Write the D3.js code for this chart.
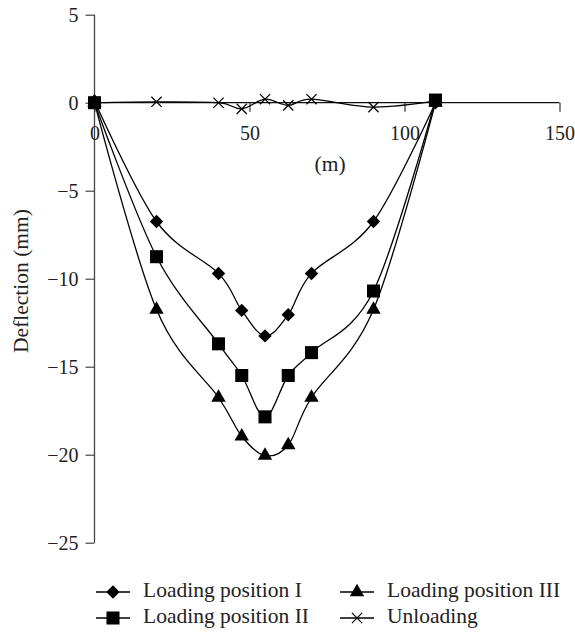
<!DOCTYPE html>
<html>
<head>
<meta charset="utf-8">
<script src="https://cdn.jsdelivr.net/npm/d3@7/dist/d3.min.js"></script>
<style>
  html, body { margin: 0; padding: 0; background: #fff; }
  svg text { font-family: "Liberation Serif", "Times New Roman", serif; fill: #222; }
</style>
</head>
<body>
<svg id="chart" width="575" height="633"></svg>
<script>
// ---- data ----
const positions = [0, 20, 40, 47.5, 55, 62.5, 70, 90, 110];
const loadingI   = [0.1, -6.75, -9.7, -11.8, -13.25, -12.05, -9.7, -6.75, 0];
const loadingII  = [0, -8.75, -13.7, -15.5, -17.85, -15.5, -14.2, -10.7, 0.15];
const loadingIII = [0, -11.75, -16.75, -18.95, -20.05, -19.45, -16.75, -11.75, 0];
const unloading  = [0, 0.05, 0, -0.35, 0.2, -0.15, 0.2, -0.25, 0.1];
const xTicks = [0, 50, 100, 150];
const yTicks = [5, 0, -5, -10, -15, -20, -25];
const seriesNames = ["Loading position I", "Loading position II", "Loading position III", "Unloading"];
const seriesShapes = ["diamond", "square", "triangle", "cross"];

const series = [loadingI, loadingII, loadingIII, unloading].map((vals, i) => ({
  name: seriesNames[i], shape: seriesShapes[i],
  points: positions.map((p, j) => ({ x: p, y: vals[j] }))
}));

const svg = d3.select("#chart");
const x = d3.scaleLinear().domain([0, 150]).range([94.5, 559.5]);
const y = d3.scaleLinear().domain([-25, 5]).range([542.7, 14.7]);
const fs = 20;      // tick labels
const fsText = 21.5; // titles and legend

// y axis
const yAxis = svg.append("g").attr("transform", `translate(${x(0)},0)`)
  .call(d3.axisLeft(y).tickValues(yTicks).tickSize(9).tickPadding(7)
        .tickFormat(d => d < 0 ? "\u2212" + Math.abs(d) : String(d)));
yAxis.select(".domain").attr("stroke", "#444").attr("stroke-width", 1.3).attr("d", `M0,${y(5)}V${y(-25)}`);
yAxis.selectAll(".tick line").attr("stroke", "#444").attr("stroke-width", 1.2);
yAxis.selectAll(".tick text").attr("font-size", fs).attr("font-family", "Liberation Serif").attr("fill", "#222");

// x axis at y = 0
const xAxis = svg.append("g").attr("transform", `translate(0,${y(0)})`)
  .call(d3.axisBottom(x).tickValues(xTicks).tickSize(9).tickPadding(14).tickFormat(d3.format("d")));
xAxis.select(".domain").attr("stroke", "#111").attr("stroke-width", 1.3).attr("d", `M${x(0)},0H${x(150)}`);
xAxis.selectAll(".tick line").attr("stroke", "#333").attr("stroke-width", 1.2);
xAxis.selectAll(".tick text").attr("font-size", fs).attr("font-family", "Liberation Serif").attr("fill", "#222");

// axis titles
svg.append("text").attr("x", x(76)).attr("y", y(-3.6)).attr("text-anchor", "middle")
  .attr("dominant-baseline", "middle").attr("font-size", fsText).text("(m)");
svg.append("text").attr("transform", `translate(23,${281}) rotate(-90)`)
  .attr("text-anchor", "middle").attr("dominant-baseline", "middle").attr("font-size", fsText).text("Deflection (mm)");

// lines
const line = d3.line().x(d => x(d.x)).y(d => y(d.y)).curve(d3.curveCardinal.tension(0));
svg.append("g").selectAll("path.series").data(series).join("path")
  .attr("class", "series").attr("d", d => line(d.points))
  .attr("fill", "none").attr("stroke", "#000").attr("stroke-width", 1.3);

// markers
const symbolFor = {
  diamond: d3.symbol().type(d3.symbolDiamond2).size(115),
  square: d3.symbol().type(d3.symbolSquare).size(170),
  triangle: d3.symbol().type(d3.symbolTriangle).size(90),
  cross: d3.symbol().type(d3.symbolX).size(70)
};
function drawMarker(sel, shape) {
  const p = sel.append("path").attr("d", symbolFor[shape]());
  if (shape === "cross") p.attr("fill", "none").attr("stroke", "#000").attr("stroke-width", 1.2);
  else p.attr("fill", "#000");
}
series.forEach(s => {
  const g = svg.append("g");
  s.points.forEach(pt => {
    const m = g.append("g").attr("transform", `translate(${x(pt.x)},${y(pt.y)})`);
    drawMarker(m, s.shape);
  });
});

// legend
const legendPos = [[96, 592], [96, 618], [340, 592], [340, 618]];
series.forEach((s, i) => {
  const [lx, ly] = legendPos[i];
  const g = svg.append("g").attr("transform", `translate(${lx},${ly})`);
  g.append("line").attr("x1", 0).attr("x2", 34).attr("y1", 0).attr("y2", 0)
    .attr("stroke", "#000").attr("stroke-width", 1.3);
  const m = g.append("g").attr("transform", "translate(17,0)");
  drawMarker(m, s.shape);
  g.append("text").attr("x", 47).attr("y", 0).attr("dominant-baseline", "middle")
    .attr("font-size", fsText).text(s.name);
});
</script>
</body>
</html>
